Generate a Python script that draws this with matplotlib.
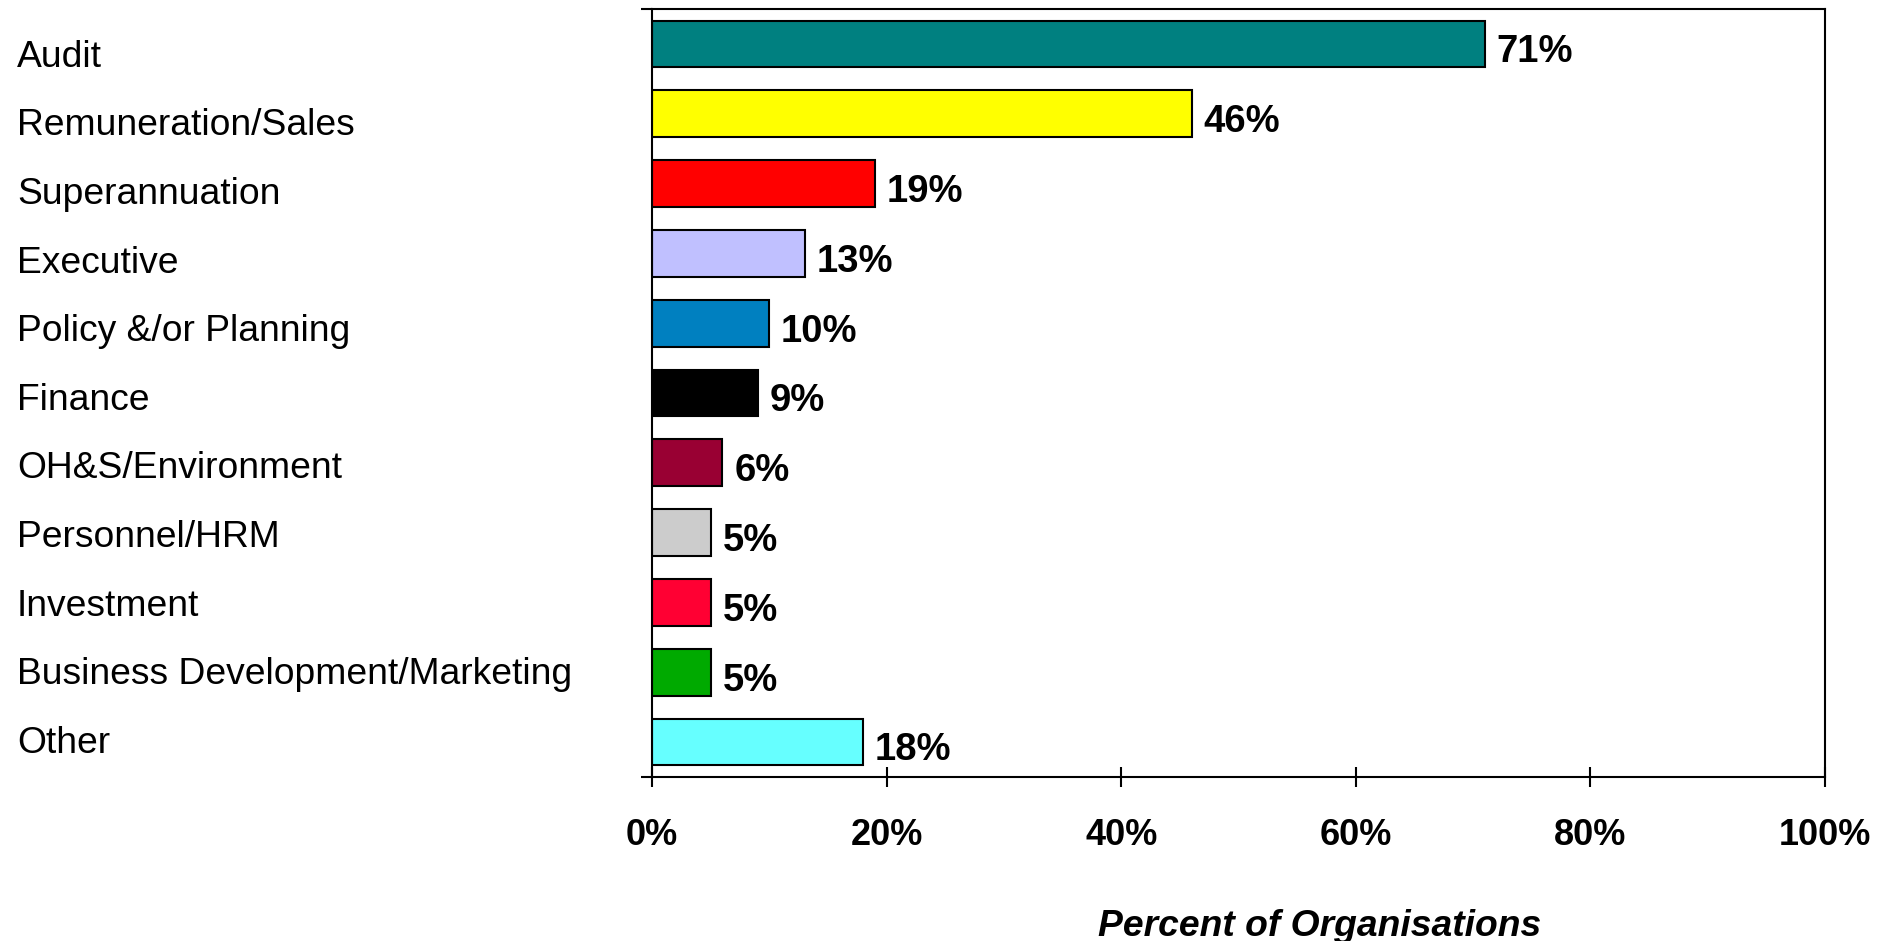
import matplotlib
matplotlib.use("Agg")
import matplotlib.pyplot as plt
import matplotlib.transforms as mtransforms

# ============================================================
# Datos
# ============================================================
categories = [
    "Audit", "Remuneration/Sales", "Superannuation", "Executive",
    "Policy &/or Planning", "Finance", "OH&S/Environment", "Personnel/HRM",
    "Investment", "Business Development/Marketing", "Other"
]
values = [71, 46, 19, 13, 10, 9, 6, 5, 5, 5, 18]
colors = [
    "#008080", "#FFFF00", "#FF0000", "#C0C0FF", "#0080C0", "#000000",
    "#990033", "#CCCCCC", "#FF0033", "#00AA00", "#66FFFF"
]
xticks = [0, 20, 40, 60, 80, 100]
xlabel = "Percent of Organisations"

plt.rcParams["font.family"] = ["Liberation Sans", "DejaVu Sans"]

fig = plt.figure(figsize=(19, 9.41), dpi=100)
ax = fig.add_axes([0.3432, 0.1743, 0.9605 - 0.3432, 0.9904 - 0.1743])

ypos = list(range(len(categories)))
ax.barh(ypos, values, height=0.67, color=colors, edgecolor="black", linewidth=1.5)

for y, v in zip(ypos, values):
    ax.text(v + 1.0, y + 0.12, f"{v}%", va="center", ha="left",
            fontsize=27.5, fontweight="bold")

ax.set_xlim(0, 100)
ax.set_ylim(len(categories) - 0.5, -0.5)

ax.set_xticks(xticks)
ax.set_xticklabels([f"{x}%" for x in xticks], fontsize=26, fontweight="bold")
ax.tick_params(axis="x", direction="inout", length=15, width=1.5, pad=22)

# ticks en y solo en los extremos (estilo Excel)
ax.set_yticks([-0.5, len(categories) - 0.5])
ax.set_yticklabels([])
ax.tick_params(axis="y", direction="out", length=8, width=1.5)

for s in ax.spines.values():
    s.set_linewidth(1.5)

# etiquetas de categorías alineadas a la izquierda (algo más juntas que las barras)
trans = mtransforms.blended_transform_factory(fig.transFigure, ax.transData)
n = len(categories)
for i, c in enumerate(categories):
    ylab = 0.19 + i * (9.83 / (n - 1))
    ax.text(17 / 1900, ylab, c, transform=trans, ha="left", va="center",
            fontsize=26.8)

fig.text(1320 / 1900, 1 - 926 / 941, xlabel, ha="center", va="center",
         fontsize=26.8, fontweight="bold", fontstyle="italic")

plt.savefig("out.png", dpi=100)
plt.close()
